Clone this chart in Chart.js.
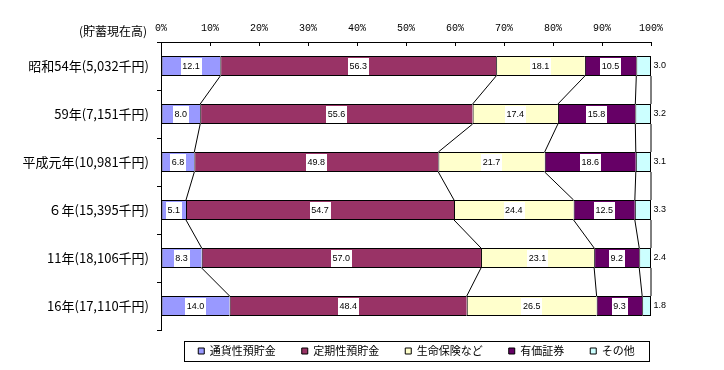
<!DOCTYPE html>
<html><head><meta charset="utf-8">
<script src="https://cdn.jsdelivr.net/npm/chart.js@4/dist/chart.umd.min.js"></script>
<style>html,body{margin:0;padding:0;background:#fff}#wrap{width:724px;height:370px;position:relative}</style>
</head><body><div id="wrap"><canvas id="c" width="724" height="370"></canvas></div>
<script>
// ---- data ----
const categories = ['昭和54年(5,032千円)', '59年(7,151千円)', '平成元年(10,981千円)', '６年(15,395千円)', '11年(18,106千円)', '16年(17,110千円)'];
const seriesNames = ['通貨性預貯金', '定期性預貯金', '生命保険など', '有価証券', 'その他'];
const demandDeposits = [12.1, 8.0, 6.8, 5.1, 8.3, 14.0];
const timeDeposits   = [56.3, 55.6, 49.8, 54.7, 57.0, 48.4];
const lifeInsurance  = [18.1, 17.4, 21.7, 24.4, 23.1, 26.5];
const securities     = [10.5, 15.8, 18.6, 12.5, 9.2, 9.3];
const others         = [3.0, 3.2, 3.1, 3.3, 2.4, 1.8];
const xTickValues = [0, 10, 20, 30, 40, 50, 60, 70, 80, 90, 100];
const headerText = '(貯蓄現在高)';

// ---- styles ----
const palette = ['#9999FF', '#993366', '#FFFFCC', '#660066', '#CCFFFF'];
const LEGEND_BOX = {left: 184, top: 341, width: 465, height: 20};

const seriesValues = [demandDeposits, timeDeposits, lifeInsurance, securities, others];
const rowTotals = categories.map((_, i) => seriesValues.reduce((s, arr) => s + arr[i], 0));

const datasets = seriesValues.map((vals, k) => ({
  label: seriesNames[k],
  data: vals.map((v, i) => v / rowTotals[i] * 100),
  rawValues: vals,
  backgroundColor: palette[k],
  borderColor: '#000',
  borderWidth: k === seriesValues.length - 1 ? {top: 1, bottom: 1, left: 1, right: 1} : {top: 1, bottom: 1, left: 1, right: 0},
  borderSkipped: false,
  barPercentage: 20 / 48,
  categoryPercentage: 1
}));

const decorPlugin = {
  id: 'decor',
  afterLayout(chart) {
    const lg = chart.legend;
    if (!lg) return;
    const itemH = (lg.legendHitBoxes && lg.legendHitBoxes.length) ? lg.legendHitBoxes[0].height : 13;
    const pad = lg.options.labels.padding;
    const center = LEGEND_BOX.left + LEGEND_BOX.width / 2;
    const half = 300;
    lg.left = center - half;
    lg.right = center + half;
    lg.width = half * 2;
    lg.top = LEGEND_BOX.top + LEGEND_BOX.height / 2 - itemH / 2 - pad;
    lg.bottom = lg.top + lg.height;
  },
  afterDatasetsDraw(chart) {
    const ctx = chart.ctx;
    const metas = chart.data.datasets.map((d, k) => chart.getDatasetMeta(k));
    ctx.save();
    // series lines between bars
    ctx.strokeStyle = '#000';
    ctx.lineWidth = 1;
    metas.forEach(meta => {
      for (let i = 0; i < meta.data.length - 1; i++) {
        const a = meta.data[i].getProps(['x', 'y', 'height'], true);
        const b = meta.data[i + 1].getProps(['x', 'y', 'height'], true);
        ctx.beginPath();
        ctx.moveTo(a.x, a.y + a.height / 2);
        ctx.lineTo(b.x, b.y - b.height / 2);
        ctx.stroke();
      }
    });
    // data labels
    ctx.font = '9px "Liberation Sans", Arial, sans-serif';
    ctx.textBaseline = 'middle';
    chart.data.datasets.forEach((ds, k) => {
      metas[k].data.forEach((el, i) => {
        const p = el.getProps(['x', 'y', 'base', 'height'], true);
        const txt = ds.rawValues[i].toFixed(1);
        const tw = ctx.measureText(txt).width;
        if (k === chart.data.datasets.length - 1) {
          ctx.fillStyle = '#000';
          ctx.textAlign = 'left';
          ctx.fillText(txt, p.x + 2.5, p.y);
        } else {
          const cx = (p.x + p.base) / 2;
          const bw = tw + 3, bh = p.height - 3;
          ctx.fillStyle = '#fff';
          ctx.fillRect(Math.round(cx - bw / 2), Math.round(p.y - bh / 2), Math.round(bw), Math.round(bh));
          ctx.fillStyle = '#000';
          ctx.textAlign = 'center';
          ctx.fillText(txt, cx, p.y + 0.5);
        }
      });
    });
    ctx.restore();
  },
  afterDraw(chart) {
    const ctx = chart.ctx;
    ctx.save();
    // legend frame
    ctx.strokeStyle = '#000';
    ctx.lineWidth = 1;
    ctx.strokeRect(LEGEND_BOX.left + 0.5, LEGEND_BOX.top + 0.5, LEGEND_BOX.width, LEGEND_BOX.height);
    // header above category labels
    const ys = chart.scales.y;
    ctx.fillStyle = '#000';
    ctx.font = '12px "Noto Sans CJK JP", sans-serif';
    ctx.textAlign = 'right';
    ctx.textBaseline = 'middle';
    ctx.fillText(headerText, ys.right - 14, chart.chartArea.top - 11);
    ctx.restore();
  }
};

new Chart(document.getElementById('c'), {
  type: 'bar',
  data: {labels: categories, datasets},
  options: {
    indexAxis: 'y',
    responsive: false,
    animation: false,
    devicePixelRatio: 1,
    layout: {padding: {left: 0, right: 73, top: 0, bottom: 0}},
    scales: {
      x: {
        type: 'linear', position: 'top', stacked: true, min: 0, max: 100,
        afterBuildTicks: s => { s.ticks = xTickValues.map(v => ({value: v})); },
        ticks: {callback: v => v + '%', color: '#000', padding: 12, maxRotation: 0, autoSkip: false,
                font: {family: '"Liberation Mono", "DejaVu Sans Mono", monospace', size: 10}},
        grid: {drawOnChartArea: false, tickLength: -4, color: '#000', tickColor: '#000'},
        border: {display: true, color: '#000', width: 1},
        afterFit: s => { s.height = 42; }
      },
      y: {
        type: 'category', stacked: true,
        ticks: {color: '#000', padding: 8, font: {family: '"Noto Sans CJK JP", sans-serif', size: 13}},
        grid: {drawOnChartArea: false, tickLength: 4, color: '#000', tickColor: '#000', offset: true},
        border: {display: true, color: '#000', width: 1},
        afterFit: s => { s.width = 161; }
      }
    },
    plugins: {
      tooltip: {enabled: false},
      legend: {
        display: true, position: 'bottom', maxHeight: 40,
        labels: {
          color: '#000', boxWidth: 6, boxHeight: 6, padding: 26,
          font: {family: '"Noto Sans CJK JP", sans-serif', size: 11},
          generateLabels(chart) {
            const items = Chart.defaults.plugins.legend.labels.generateLabels(chart);
            items.forEach(it => { it.lineWidth = 1; it.strokeStyle = '#000'; });
            return items;
          }
        }
      }
    }
  },
  plugins: [decorPlugin]
});
</script>
</body></html>
